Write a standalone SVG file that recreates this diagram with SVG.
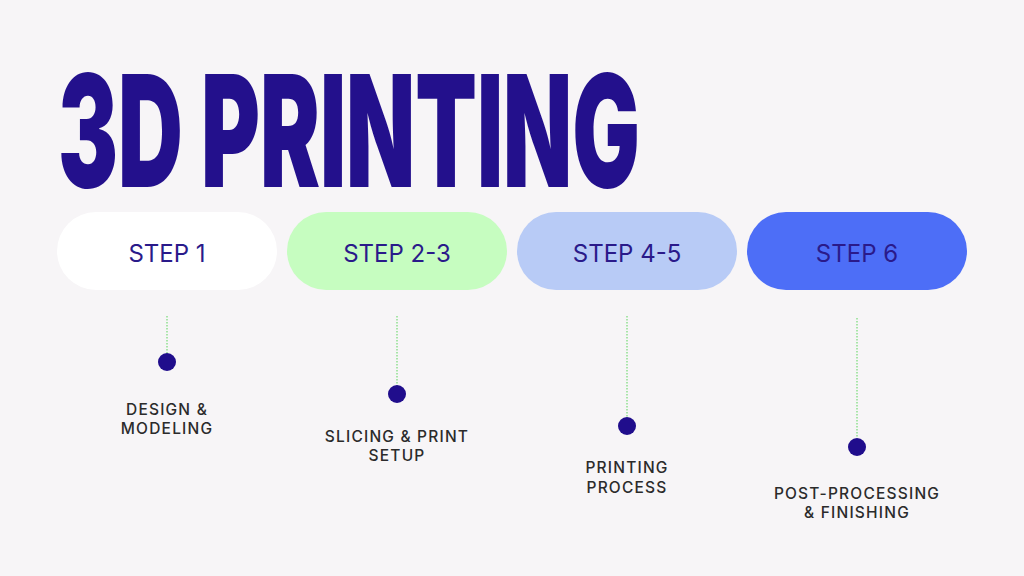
<svg xmlns="http://www.w3.org/2000/svg" width="1024" height="576" viewBox="0 0 1024 576">
<style>
.title{font-family:Inter,"Liberation Sans",sans-serif;font-weight:900;font-size:156px;fill:#23108c}
.step{font-family:Inter,"Liberation Sans",sans-serif;font-size:24px;fill:#2a1a8a;text-anchor:middle}
.lbl{font-family:Inter,"Liberation Sans",sans-serif;font-size:15.5px;font-weight:500;fill:#2b2b2b;text-anchor:middle;letter-spacing:1.2px}
.conn{stroke:#8fe08f;stroke-width:1.5;stroke-dasharray:1.5 1.5;fill:none}
.dot{fill:#200d8c}
</style>
<rect width="1024" height="576" fill="#f7f5f7"/>
<g id="title" transform="translate(58,187) scale(0.5,1)"><text class="title" x="0" y="0" textLength="1164" lengthAdjust="spacingAndGlyphs">3D PRINTING</text></g>
<g id="connectors">
<line class="conn" x1="167" y1="316" x2="167" y2="354"/>
<line class="conn" x1="397" y1="316" x2="397" y2="386"/>
<line class="conn" x1="627" y1="316" x2="627" y2="417"/>
<line class="conn" x1="857" y1="318" x2="857" y2="438"/>
</g>
<g id="step1"><rect x="57" y="212" width="220" height="78" rx="39" fill="#ffffff"/><text class="step" x="167" y="262">STEP 1</text></g>
<g id="step2"><rect x="287" y="212" width="220" height="78" rx="39" fill="#c6fdc0"/><text class="step" x="397" y="262">STEP 2-3</text></g>
<g id="step3"><rect x="517" y="212" width="220" height="78" rx="39" fill="#b8cbf6"/><text class="step" x="627" y="262">STEP 4-5</text></g>
<g id="step4"><rect x="747" y="212" width="220" height="78" rx="39" fill="#4d6ef7"/><text class="step" x="857" y="262">STEP 6</text></g>
<g id="point1"><circle class="dot" cx="167" cy="362" r="9"/><text class="lbl" x="167" y="415">DESIGN &amp;</text><text class="lbl" x="167" y="434">MODELING</text></g>
<g id="point2"><circle class="dot" cx="397" cy="394" r="9"/><text class="lbl" x="397" y="442">SLICING &amp; PRINT</text><text class="lbl" x="397" y="461">SETUP</text></g>
<g id="point3"><circle class="dot" cx="627" cy="426" r="9"/><text class="lbl" x="627" y="473">PRINTING</text><text class="lbl" x="627" y="493">PROCESS</text></g>
<g id="point4"><circle class="dot" cx="857" cy="447" r="9"/><text class="lbl" x="857" y="499">POST-PROCESSING</text><text class="lbl" x="857" y="518">&amp; FINISHING</text></g>
</svg>
